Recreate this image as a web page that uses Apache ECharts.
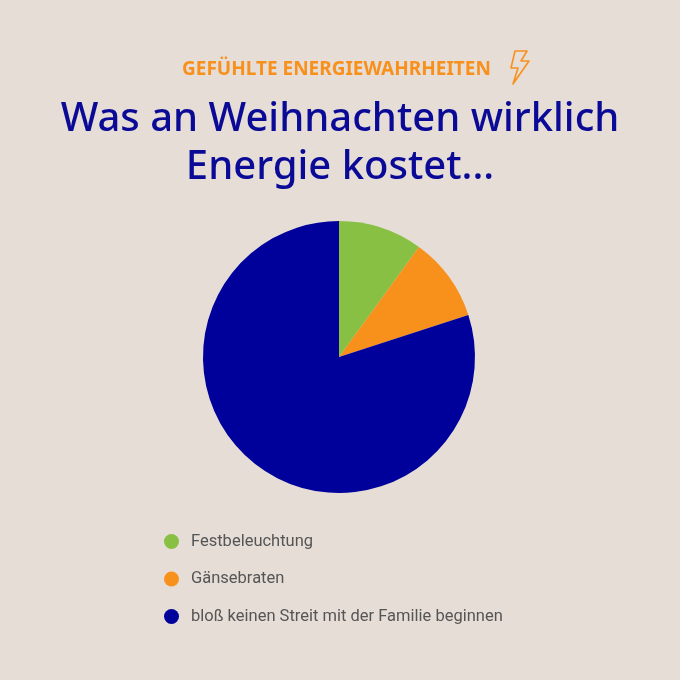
<!DOCTYPE html>
<html>
<head>
<meta charset="utf-8">
<script src="https://cdn.jsdelivr.net/npm/echarts@6/dist/echarts.min.js"></script>
<style>
  html, body { margin: 0; padding: 0; background: #e6ddd7; }
  #chart { width: 680px; height: 680px; }
</style>
</head>
<body>
<div id="chart"></div>
<script>
// Daten
var categories = ['Festbeleuchtung', 'Gänsebraten', 'bloß keinen Streit mit der Familie beginnen'];
var values = [10, 10, 80];
var colors = ['#88c044', '#f8901c', '#00009a'];

var myChart = echarts.init(document.getElementById('chart'));

var pieData = [];
for (var i = 0; i < categories.length; i++) {
    pieData.push({ name: categories[i], value: values[i], itemStyle: { color: colors[i] } });
}

var option = {
    backgroundColor: '#e6ddd7',
    animation: false,
    legend: {
        orient: 'vertical',
        left: 159,
        top: 528,
        itemGap: 20.5,
        itemWidth: 15,
        itemHeight: 15,
        icon: 'circle',
        selectedMode: false,
        textStyle: { color: '#555', fontSize: 16.5, fontFamily: 'Roboto', padding: [0, 0, 0, 7] },
        data: categories
    },
    graphic: [{
        // Oberzeile
        type: 'text',
        left: 182,
        top: 60,
        style: { text: 'GEFÜHLTE ENERGIEWAHRHEITEN', fill: '#f8901c', font: 'bold 19px "Noto Sans"' }
    }, {
        // Titel
        type: 'text',
        x: 340,
        y: 96,
        style: {
            text: 'Was an Weihnachten wirklich\nEnergie kostet...',
            fill: '#0a0a96',
            font: '500 40px "Noto Sans"',
            align: 'center',
            lineHeight: 48
        }
    }, {
        // Blitz-Symbol
        type: 'polygon',
        shape: { points: [[515, 51], [527, 51], [521, 61], [529, 61], [513, 84], [518, 68], [511, 68]] },
        style: { fill: 'none', stroke: '#f8901c', lineWidth: 1.6, lineJoin: 'round' }
    }],
    series: [{
        type: 'pie',
        center: [339, 357],
        radius: 136,
        startAngle: 90,
        clockwise: true,
        label: { show: false },
        labelLine: { show: false },
        emphasis: { disabled: true },
        itemStyle: { borderWidth: 0 },
        data: pieData
    }]
};
myChart.setOption(option);
</script>
</body>
</html>
